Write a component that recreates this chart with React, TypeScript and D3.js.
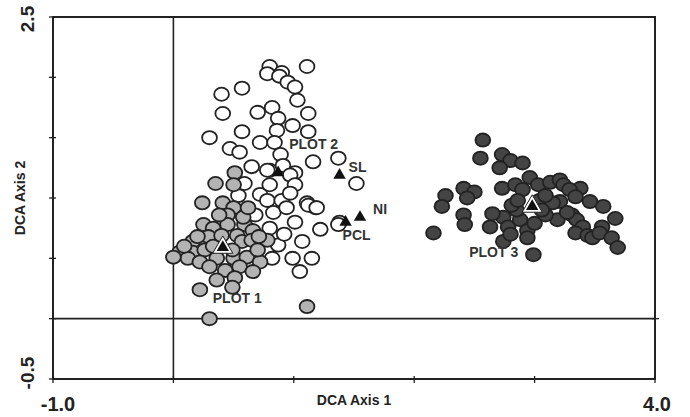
import React from "react";
import * as d3 from "d3";

// axis extents and the only tick labels printed
const xDomain: [number, number] = [-1, 4];
const yDomain: [number, number] = [-0.5, 2.5];
const xTickLabels = ["-1.0", "4.0"];
const yTickLabels = ["-0.5", "2.5"];

// PLOT 2 quadrats (open circles)
const plot2Points: [number, number][] = [
  [0.8, 2.09], [0.78, 2.03], [0.9, 2.04], [0.88, 2.01], [1.11, 2.09], [0.95, 1.96],
  [1.01, 1.92], [0.57, 1.91], [0.4, 1.86], [1.03, 1.81], [0.82, 1.75], [0.7, 1.71],
  [0.41, 1.7], [1.12, 1.7], [0.87, 1.66], [0.99, 1.6], [0.57, 1.55], [0.86, 1.56],
  [1.12, 1.55], [0.3, 1.5], [0.72, 1.46], [0.84, 1.46], [0.47, 1.41], [0.55, 1.38],
  [0.89, 1.36], [1.16, 1.3], [0.65, 1.26], [0.8, 1.23], [0.91, 1.27], [1.37, 1.33],
  [1.01, 1.21], [0.78, 1.23], [0.97, 1.19], [1.01, 1.11], [0.72, 1.03], [0.8, 1.11],
  [0.78, 0.98], [0.9, 0.98], [0.97, 1.04], [1.11, 0.96], [1.18, 0.92], [0.83, 0.88],
  [0.94, 0.92], [1.01, 0.8], [0.8, 0.75], [1.22, 0.74], [1.07, 0.64], [0.87, 0.61],
  [0.82, 0.5], [0.99, 0.5], [1.15, 0.5], [1.05, 0.39], [1.52, 1.12], [1.12, 0.94],
  [1.19, 0.92], [1.38, 0.8], [1.37, 0.78], [0.54, 1.02], [0.59, 1.12], [0.92, 0.7],
  [0.68, 0.86],
];

// PLOT 1 quadrats (grey)
const plot1Points: [number, number][] = [
  [0.51, 1.21], [0.35, 1.12], [0.5, 1.11], [0.24, 0.96], [0.41, 0.96], [0.5, 0.92],
  [0.45, 0.86], [0.25, 0.78], [0.33, 0.75], [0.45, 0.78], [0.59, 0.78], [0.66, 0.73],
  [0.16, 0.64], [0.29, 0.68], [0.53, 0.69], [0.57, 0.64], [0.65, 0.65], [0.78, 0.65],
  [0.05, 0.55], [0.16, 0.55], [0.26, 0.57], [0.12, 0.5], [0.22, 0.47], [0.36, 0.5],
  [0.5, 0.5], [0.61, 0.51], [0.72, 0.47], [0.3, 0.43], [0.55, 0.43], [0.43, 0.4],
  [0.66, 0.39], [0.36, 0.32], [0.51, 0.34], [0.22, 0.24], [0.49, 0.26], [1.11, 0.1],
  [0.3, 0.0], [0.0, 0.51], [0.58, 0.84], [0.7, 0.57], [0.2, 0.68], [0.33, 0.6],
  [0.49, 0.57], [0.71, 0.68], [0.4, 0.69], [0.09, 0.6], [0.62, 0.92], [0.38, 0.86],
];

// PLOT 3 quadrats (dark)
const plot3Points: [number, number][] = [
  [2.57, 1.48], [2.55, 1.33], [2.73, 1.36], [2.8, 1.31], [2.9, 1.29], [2.71, 1.25],
  [2.96, 1.17], [3.03, 1.11], [3.13, 1.13], [3.21, 1.15], [3.24, 1.11], [3.38, 1.08],
  [3.29, 1.07], [2.26, 1.02], [2.41, 1.08], [2.5, 1.05], [2.44, 1.0], [2.23, 0.93],
  [2.73, 1.08], [2.84, 1.11], [2.9, 1.07], [3.04, 0.98], [3.21, 0.97], [3.34, 1.01],
  [3.46, 0.97], [3.57, 0.93], [3.67, 0.83], [2.41, 0.86], [2.42, 0.78], [2.16, 0.71],
  [2.63, 0.76], [2.74, 0.84], [2.78, 0.76], [2.88, 0.82], [2.94, 0.73], [3.0, 0.79],
  [2.74, 0.64], [2.94, 0.67], [3.19, 0.82], [3.31, 0.86], [3.35, 0.82], [3.4, 0.76],
  [3.34, 0.71], [3.44, 0.69], [3.48, 0.67], [3.56, 0.76], [3.54, 0.71], [3.64, 0.67],
  [3.69, 0.59], [2.99, 0.53], [2.85, 0.9], [2.81, 0.94], [3.15, 0.96], [3.27, 0.88],
  [3.09, 1.02], [3.09, 0.86], [2.86, 0.98], [3.06, 0.9], [2.8, 0.7], [2.65, 0.87],
];

// centroids and environmental vectors
const markerNames = ["PLOT 1", "PLOT 2", "PLOT 3", "SL", "NI", "PCL"];
const markerX = [0.41, 0.87, 2.98, 1.38, 1.55, 1.43];
const markerY = [0.59, 1.21, 0.93, 1.19, 0.84, 0.8];

const W = 690;
const H = 417;
const margin = { top: 17, right: 35, bottom: 38, left: 53 };
const font = "'Liberation Sans', Arial, Helvetica, sans-serif";
const ink = "#222";

// label placement relative to each marker, in px
const labelOffset: Record<string, [number, number]> = {
  "PLOT 1": [-10, 56],
  "PLOT 2": [11, -24],
  "PLOT 3": [-63, 51],
  SL: [9, -3],
  NI: [13, -3],
  PCL: [-3, 18],
};
const outlined = new Set(["PLOT 1", "PLOT 3"]);

export default function App() {
  const x = d3.scaleLinear().domain(xDomain).range([margin.left, W - margin.right]);
  const y = d3.scaleLinear().domain(yDomain).range([H - margin.bottom, margin.top]);

  const small = d3.symbol(d3.symbolTriangle, 66)()!;
  const big = d3.symbol(d3.symbolTriangle, 175)()!;

  const x0 = x(xDomain[0]), x1 = x(xDomain[1]);
  const y0 = y(yDomain[0]), y1 = y(yDomain[1]);

  const dots = (pts: [number, number][], fill: string, key: string) =>
    pts.map((p, i) => (
      <ellipse key={key + i} cx={x(p[0])} cy={y(p[1])} rx={7.4} ry={6.6}
        fill={fill} stroke={ink} strokeWidth={1.8} />
    ));

  return (
    <svg width={W} height={H} style={{ position: "absolute", left: 0, top: 0, background: "#fff" }}
      fontFamily={font}>
      {/* frame */}
      <rect x={x0} y={y1} width={x1 - x0} height={y0 - y1} fill="none" stroke={ink} strokeWidth={2} />
      {/* zero lines */}
      <line x1={x(0)} x2={x(0)} y1={y1} y2={y0} stroke={ink} strokeWidth={1.6} />
      <line x1={x0} x2={x1} y1={y(0)} y2={y(0)} stroke={ink} strokeWidth={1.6} />
      {/* ticks */}
      {x.ticks(5).map(t => (
        <line key={"xt" + t} x1={x(t)} x2={x(t)} y1={y0 - 3} y2={y0 + 4} stroke={ink} strokeWidth={1.3} />
      ))}
      {y.ticks(6).map(t => (
        <line key={"yt" + t} x1={x0 - 4} x2={x0 + 3} y1={y(t)} y2={y(t)} stroke={ink} strokeWidth={1.3} />
      ))}
      {[y(0)].map(v => (
        <line key="rt" x1={x1 - 3} x2={x1 + 4} y1={v} y2={v} stroke={ink} strokeWidth={1.3} />
      ))}

      {dots(plot2Points, "#fff", "p2")}
      {dots(plot1Points, "#b3b3b3", "p1")}
      {dots(plot3Points, "#444", "p3")}

      {markerNames.map((n, i) => {
        const cx = x(markerX[i]);
        const cy = y(markerY[i]);
        const [dx, dy] = labelOffset[n];
        return (
          <g key={n}>
            {outlined.has(n) && (
              <path d={big} transform={`translate(${cx},${cy})`} fill="#fff" stroke={ink} strokeWidth={1} />
            )}
            <path d={small} transform={`translate(${cx},${cy})`} fill="#111" />
            <text x={cx + dx} y={cy + dy} fontSize={14} fontWeight="bold" fill="#333">{n}</text>
          </g>
        );
      })}

      {/* tick labels */}
      <text x={x0 + 5} y={H - 6} fontSize={20} fontWeight="bold" textAnchor="middle" fill={ink}>{xTickLabels[0]}</text>
      <text x={x1 + 2} y={H - 6} fontSize={20} fontWeight="bold" textAnchor="middle" fill={ink}>{xTickLabels[1]}</text>
      <text transform={`translate(34,${y0 - 6}) rotate(-90)`} fontSize={19} fontWeight="bold" textAnchor="middle" fill={ink}>{yTickLabels[0]}</text>
      <text transform={`translate(34,${y1 + 2}) rotate(-90)`} fontSize={19} fontWeight="bold" textAnchor="middle" fill={ink}>{yTickLabels[1]}</text>

      {/* axis titles */}
      <text x={(x0 + x1) / 2} y={H - 12} fontSize={14} fontWeight="bold" textAnchor="middle" fill={ink}>DCA Axis 1</text>
      <text transform={`translate(25,${(y0 + y1) / 2}) rotate(-90)`} fontSize={14} fontWeight="bold" textAnchor="middle" fill={ink}>DCA Axis 2</text>
    </svg>
  );
}
